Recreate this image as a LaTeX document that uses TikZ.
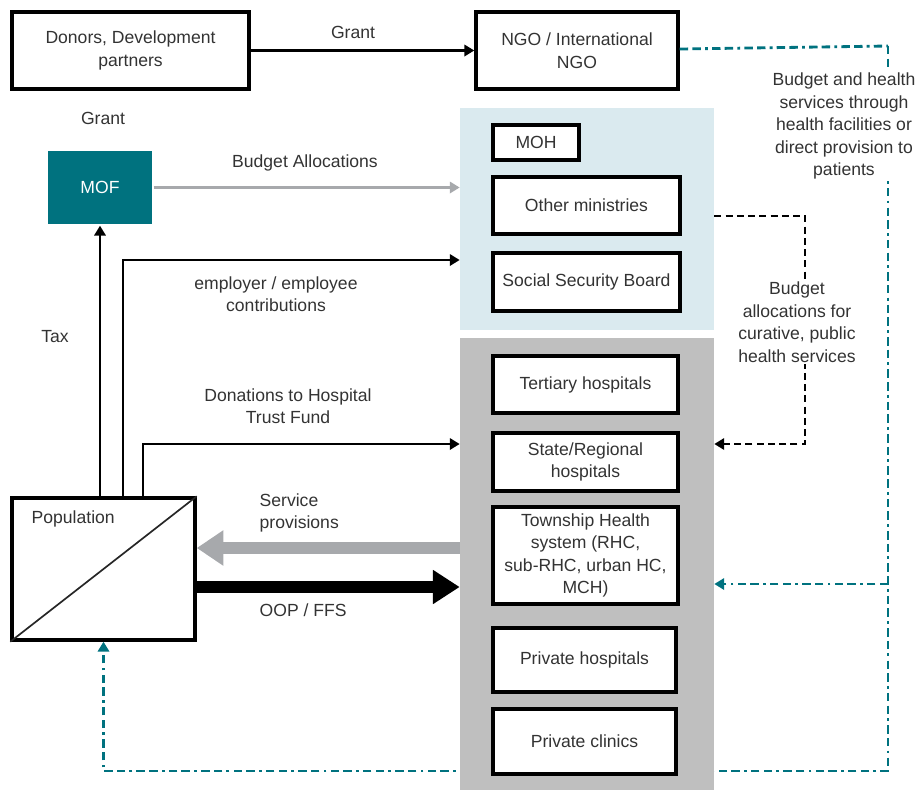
\documentclass[tikz,border=0pt]{standalone}
\usepackage{fontspec}
\setmainfont{Liberation Sans}
\usetikzlibrary{arrows.meta}
\definecolor{mofteal}{HTML}{00727F}
\definecolor{govblue}{HTML}{DAEAEF}
\definecolor{hospgray}{HTML}{BFBFBF}
\definecolor{flowgray}{HTML}{A7A9AC}
\definecolor{txt}{HTML}{333333}
\begin{document}
\begin{tikzpicture}[x=0.025cm,y=-0.025cm,
  font=\fontsize{12.5}{16}\selectfont,
  box/.style={draw,line width=2.4pt,fill=white,align=center,text=txt,inner sep=2pt},
  panel/.style={draw=none,inner sep=0pt},
  lbl/.style={align=center,text=txt,inner sep=1pt},
  conn/.style={line width=2pt,-{Triangle[length=7pt,width=8pt]}},
  tealdash/.style={mofteal,line width=2pt,dash pattern=on 6pt off 3pt on 6pt off 3pt on 2pt off 3pt},
  blkdash/.style={line width=2pt,dash pattern=on 5pt off 3pt}]
\useasboundingbox (0,0) rectangle (922,790);
% population and the teal return loop
\node[box,minimum width=4.575cm,minimum height=3.55cm] (pop) at (103.5,569) {};
\draw[line width=1.2pt,black!85] (pop.south west) -- (pop.north east);
\node[lbl,anchor=west] (poptxt) at (30,519) {Population};
\coordinate (tr) at (888,46);
\coordinate (tmid) at (888,584);
\coordinate (tbot) at (888,771);
\draw[tealdash,-{Triangle[length=7pt,width=8pt]}] (tr) -- (tbot) -| (pop.south);
% panels
\node[panel,fill=govblue,minimum width=6.35cm,minimum height=5.55cm] (govpanel) at (587,219) {};
\node[panel,fill=hospgray,minimum width=6.35cm,minimum height=11.3cm] (hosppanel) at (587,564) {};
% boxes
\node[box,minimum width=5.925cm,minimum height=1.925cm] (donors) at (130.5,50.5) {Donors, Development\\partners};
\node[box,minimum width=5.05cm,minimum height=1.925cm] (ngo) at (577,50.5) {NGO / International\\NGO};
\node[box,draw=none,fill=mofteal,text=white,minimum width=2.6cm,minimum height=1.825cm] (mof) at (100,187.5) {MOF};
\node[box,minimum width=2.15cm,minimum height=0.875cm] (moh) at (536,142.5) {MOH};
\node[box,minimum width=4.675cm,minimum height=1.425cm] (oth) at (586.5,205.5) {Other ministries};
\node[box,minimum width=4.675cm,minimum height=1.45cm] (ssb) at (586.5,282) {Social Security Board};
\node[box,minimum width=4.625cm,minimum height=1.425cm] (tert) at (585.5,384.5) {Tertiary hospitals};
\node[box,minimum width=4.625cm,minimum height=1.45cm] (state) at (585.5,462) {State/Regional\\hospitals};
\node[box,minimum width=4.625cm,minimum height=2.425cm] (town) at (585.5,555.5) {Township Health\\system (RHC,\\sub-RHC, urban HC,\\MCH)};
\node[box,minimum width=4.575cm,minimum height=1.6cm] (privh) at (584.5,660) {Private hospitals};
\node[box,minimum width=4.575cm,minimum height=1.625cm] (privc) at (584.5,741.5) {Private clinics};
% flows
\draw[conn] (donors) -- (ngo);
\node[lbl] (grant1) at (353,32) {Grant};
\node[lbl] (grant2) at (103,118) {Grant};
\draw[conn,flowgray] (mof) -- (mof -| govpanel.west);
\node[lbl] (budget) at (305,163) {Budget Allocations};
\draw[conn] (mof |- pop.north) -- (mof);
\node[lbl] (tax) at (55,337) {Tax};
\coordinate (emp) at (123,260);
\draw[conn] (emp |- pop.north) -- (emp) -- (emp -| govpanel.west);
\node[lbl] (emptxt) at (276,294) {employer / employee\\contributions};
\coordinate (don) at (143,444);
\draw[conn] (don |- pop.north) -- (don) -- (don -| govpanel.west);
\node[lbl] (dontxt) at (288,406) {Donations to Hospital\\Trust Fund};
\coordinate (svc) at (330,548);
\draw[flowgray,line width=8pt,-{Triangle[length=19pt,width=24pt]}] (svc -| hosppanel.west) -- (svc -| pop.east);
\node[lbl,anchor=west,align=left] (svctxt) at (258,513) {Service\\provisions};
\coordinate (oop) at (330,587);
\draw[line width=8.5pt,-{Triangle[length=19pt,width=23pt]}] (oop -| pop.east) -- (oop -| hosppanel.west);
\node[lbl,anchor=west] (ooptxt) at (258,610) {OOP / FFS};
% dashed budget lines
\draw[tealdash] (ngo) -- (tr);
\draw[tealdash,-{Triangle[length=7pt,width=8pt]}] (tmid) -- (tmid -| hosppanel.east);
\node[lbl,fill=white] (ngotxt) at (844,126) {Budget and health\\services through\\health facilities or\\direct provision to\\patients};
\coordinate (bd) at (805,216);
\coordinate (bdbot) at (805,444);
\draw[blkdash,-{Triangle[length=7pt,width=8pt]}] (bd -| govpanel.east) -- (bd) -- (bdbot) -- (bdbot -| hosppanel.east);
\node[lbl,fill=white] (bdtxt) at (797,322) {Budget\\allocations for\\curative, public\\health services};
\end{tikzpicture}
\end{document}
